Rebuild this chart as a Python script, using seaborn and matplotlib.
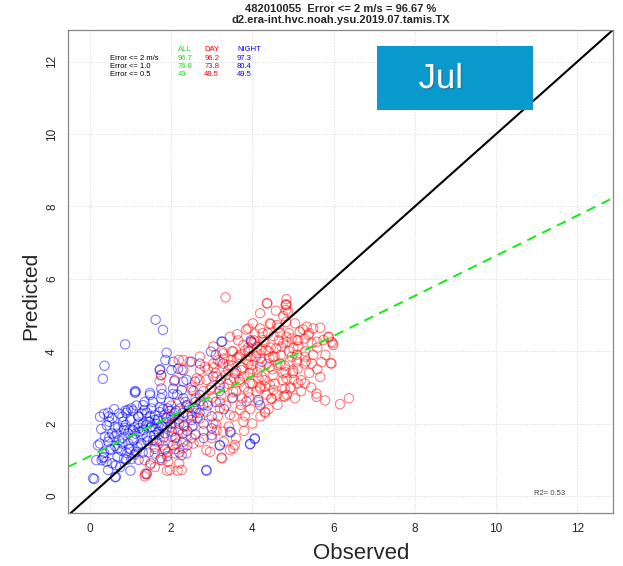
import numpy as np
import pandas as pd
import seaborn as sns
from matplotlib import pyplot as plt
from matplotlib.patches import Rectangle
import matplotlib.patheffects as pe

# night (blue) points, observed / predicted
night_obs = [
    1.62, 1.80, 0.87, 0.36, 0.32, 1.13, 1.89, 1.86, 1.73, 3.26, 3.96, 0.11, 0.64, 2.87, 4.06, 3.95, 3.47, 3.20,
    1.11, 1.48, 1.78, 2.05, 0.25, 0.35, 0.45, 0.47, 0.48, 0.80, 0.88, 0.94, 1.06, 1.31, 1.35, 1.19, 1.48, 1.60,
    1.72, 1.85, 1.97, 2.09, 2.22, 0.55, 0.61, 0.37, 0.25, 0.45, 0.16, 0.29, 0.41, 0.45, 0.08, 0.34, 0.52, 0.68,
    0.68, 0.64, 0.62, 0.84, 0.96, 1.08, 0.80, 0.94, 1.06, 1.23, 1.31, 1.19, 1.44, 1.52, 1.64, 1.76, 1.89, 2.01,
    1.68, 1.85, 1.40, 1.56, 1.27, 0.92, 1.15, 0.72, 0.84, 0.88, 0.61,
    3.24, 3.97, 2.98, 3.10, 2.71, 2.50, 2.30, 2.38, 2.59, 3.28, 4.23, 3.57, 3.04, 3.20,
    2.26, 2.30, 2.38, 2.55, 2.71, 2.79, 3.00, 3.00, 3.45, 3.20, 4.06, 3.94, 2.87, 2.30, 2.26, 4.19, 4.15, 3.86,
    2.05, 2.17, 2.01, 1.72, 1.76, 2.09, 2.30, 1.11, 1.48, 1.76, 2.05,
    1.00, 1.10, 1.20, 1.30, 1.40, 1.50, 1.60, 1.70, 1.80, 1.90, 2.00, 2.10, 2.20, 2.30, 2.40, 2.50, 2.60, 2.70,
    2.80, 2.90, 3.00, 1.05, 1.25, 1.45, 1.65, 1.85, 2.05, 1.15, 1.35, 1.55, 1.75, 1.95, 2.15, 2.35, 2.55, 0.70,
    0.80, 0.90, 0.60, 0.50, 0.90, 1.00, 1.20, 1.30, 1.60, 1.50, 1.90, 2.20, 2.40, 2.60, 2.80, 3.10, 3.30, 3.50,
    3.20, 2.45, 2.65, 1.12, 1.38, 1.62, 1.88, 2.12, 2.32, 1.72, 1.48, 1.22, 0.98, 0.82, 0.66, 0.42, 0.28, 0.20,
    0.35, 0.55, 0.75, 1.00, 1.40, 0.95, 1.10, 1.75,
    0.55, 0.72, 1.02, 1.28, 1.52, 1.68, 1.92, 2.18, 2.42, 2.62, 0.62, 0.78, 1.02, 1.18, 1.42, 1.58, 1.82, 2.02,
    2.28, 2.52, 0.32, 0.48, 0.85, 1.32, 1.78,
]
night_pred = [
    4.87, 4.59, 4.19, 3.60, 3.24, 2.88, 3.96, 3.76, 3.50, 4.27, 4.30, 0.47, 0.53, 0.70, 1.58, 1.44, 1.76, 1.39,
    2.85, 2.79, 2.82, 2.82, 2.19, 2.27, 2.30, 2.19, 2.05, 2.19, 2.36, 2.38, 2.36, 2.51, 2.38, 2.19, 2.20, 2.23,
    2.32, 2.25, 2.35, 2.30, 2.42, 1.73, 1.64, 1.64, 1.45, 1.50, 0.99, 0.99, 0.95, 0.72, 0.49, 1.08, 1.27, 1.31,
    1.08, 0.85, 0.52, 1.04, 1.31, 1.54, 1.45, 1.73, 1.82, 1.78, 2.00, 2.00, 2.05, 1.91, 2.00, 1.96, 2.05, 2.00,
    1.78, 1.73, 1.64, 1.54, 1.45, 1.18, 1.22, 1.54, 1.82, 1.96, 1.91,
    4.26, 4.26, 3.99, 3.90, 3.66, 3.71, 3.48, 3.21, 3.16, 3.66, 3.71, 3.39, 3.30, 3.07,
    2.93, 2.70, 2.51, 2.42, 2.79, 2.51, 1.87, 1.68, 1.78, 1.41, 1.59, 1.43, 0.72, 1.50, 1.13, 2.51, 2.65, 2.61,
    3.71, 3.52, 3.48, 3.48, 3.34, 3.20, 3.16, 2.90, 2.85, 2.97, 2.97,
    2.10, 1.90, 2.20, 1.70, 2.30, 1.90, 2.10, 1.70, 2.40, 1.90, 2.20, 1.60, 2.00, 2.30, 1.80, 2.10, 2.60, 2.30,
    2.00, 2.50, 2.20, 1.60, 1.40, 1.20, 1.50, 1.30, 1.40, 2.50, 2.60, 2.60, 2.70, 2.60, 2.80, 2.60, 2.90, 1.90,
    1.60, 2.30, 2.40, 1.30, 1.00, 1.30, 1.00, 1.20, 1.30, 0.90, 1.10, 1.20, 1.40, 1.70, 1.60, 2.60, 2.40, 2.70,
    2.90, 2.45, 2.15, 1.72, 1.95, 1.85, 2.15, 2.35, 1.95, 2.45, 2.05, 1.88, 1.82, 2.05, 1.72, 1.95, 1.85, 1.40,
    1.20, 0.90, 0.80, 0.70, 0.60, 1.45, 1.15, 1.05,
    2.15, 2.28, 2.42, 2.28, 2.42, 2.12, 2.42, 2.12, 2.22, 2.42, 1.38, 1.25, 1.02, 1.35, 1.52, 1.68, 1.62, 1.78,
    1.72, 1.92, 1.05, 1.62, 1.88, 1.82, 1.92,
]

# day (red) points
day_obs = [
    3.34, 4.36, 4.84, 4.82, 6.38, 6.16, 5.79, 5.58, 5.93, 5.98, 5.88, 1.36, 1.73, 2.16, 3.25, 4.32, 4.47, 4.77,
    1.35, 1.48, 1.39, 1.35, 1.78, 1.93, 1.97, 1.60, 1.85, 2.09, 2.14, 2.01, 2.18, 1.60, 1.72, 1.93, 2.09,
    4.37, 4.83, 4.83, 4.58, 4.19, 4.76, 4.01, 4.43, 4.61, 4.83, 3.90, 4.19, 4.39, 4.68, 3.63, 4.06, 4.27, 3.98,
    3.78, 4.11, 3.91, 3.53, 3.67, 3.48, 3.85, 4.09, 4.34, 4.59, 4.76, 4.84, 4.51, 4.68, 4.43, 4.19, 3.98, 3.73,
    3.94, 4.23, 4.51, 4.76, 3.28, 3.04, 3.20, 3.41, 3.04, 2.83, 3.12, 3.45, 3.69, 3.94, 4.19, 4.43, 2.30, 2.46,
    2.26, 2.71, 2.71, 2.63, 2.87,
    2.50, 2.96, 3.24, 3.53, 3.90, 4.19, 4.52, 4.80, 4.47, 4.80, 4.31, 3.70, 3.78, 3.45, 3.20, 2.87, 2.71, 2.55,
    2.38, 2.55, 2.30, 2.96, 3.24, 3.53, 3.45, 3.57, 3.04, 3.28, 2.26, 2.87, 2.38,
    4.84, 4.88, 5.05, 5.17, 5.34, 5.38, 5.50, 5.67, 5.87, 5.99, 5.95, 5.75, 5.59, 5.46, 5.29, 5.13, 4.97, 4.84,
    5.01, 5.13, 4.97, 5.09, 5.29, 5.29, 5.46, 5.95, 5.01, 5.67, 4.84, 5.13, 5.29, 4.93, 5.58,
    2.19, 1.75, 1.72, 2.08,
    3.00, 3.10, 3.20, 3.30, 3.40, 3.50, 3.60, 3.70, 3.80, 3.90, 4.00, 4.10, 4.20, 4.30, 4.40, 4.50, 4.60, 4.70,
    4.80, 4.90, 5.00, 5.10, 5.20, 5.30, 5.40, 5.50, 5.60, 3.05, 3.25, 3.45, 3.65, 3.85, 4.05, 4.25, 4.45, 4.65,
    3.15, 3.35, 3.55, 3.75, 3.95, 4.15, 4.35, 4.55, 4.75, 4.95, 2.80, 2.60, 2.40, 2.50, 2.70, 2.90, 2.20, 2.00,
    2.30, 2.60, 2.90, 3.10, 2.80, 2.50, 2.70, 3.00, 3.30, 3.60, 3.80, 4.00, 4.20, 4.40, 2.10, 2.20, 1.90, 1.60,
    1.80, 2.00, 3.55, 3.75, 3.95, 4.15, 4.35, 4.55, 3.35, 3.15, 4.65, 4.45, 4.90, 5.10, 5.25, 5.40, 5.60, 5.80,
    5.70, 4.85, 5.05, 5.20, 5.45, 3.60, 3.80, 4.00, 3.70, 3.90, 4.10, 4.30, 3.50, 3.30,
    3.42, 3.62, 3.82, 4.02, 4.22, 4.42, 4.62, 4.82, 3.52, 3.72, 3.92, 4.12, 4.32, 4.52, 4.72, 4.92, 5.12, 5.32,
    3.22, 3.02, 2.72, 2.52, 2.32, 2.12, 1.92, 3.12, 3.42, 3.82, 4.62, 5.02,
]
day_pred = [
    5.49, 5.33, 5.44, 5.28, 2.70, 2.54, 2.64, 2.74, 3.67, 4.22, 4.39, 0.61, 1.00, 0.70, 1.04, 2.30, 2.68, 2.76,
    0.99, 0.85, 0.62, 0.54, 0.99, 0.95, 0.72, 1.18, 1.27, 1.18, 1.45, 1.64, 1.82, 1.36, 1.54, 2.19, 2.00,
    5.32, 5.30, 5.14, 5.12, 5.05, 4.97, 4.77, 4.77, 4.72, 4.81, 4.63, 4.63, 4.49, 4.51, 4.47, 4.49, 4.31, 4.26,
    4.17, 4.12, 3.99, 3.99, 3.85, 3.76, 3.76, 3.85, 4.03, 4.08, 4.22, 4.40, 3.85, 3.66, 3.57, 3.57, 3.62, 3.48,
    3.39, 3.30, 3.34, 3.39, 3.94, 4.13, 3.71, 3.48, 3.66, 3.57, 3.30, 3.21, 3.21, 3.11, 3.02, 3.07, 3.76, 3.71,
    3.48, 3.85, 3.48, 3.25, 3.21,
    2.93, 2.93, 2.79, 2.88, 2.88, 2.97, 2.93, 2.97, 2.70, 2.74, 2.33, 2.38, 2.05, 2.24, 2.42, 2.33, 2.14, 1.96,
    1.68, 1.45, 1.32, 1.22, 1.06, 1.32, 1.27, 1.41, 2.00, 1.78, 0.72, 1.27, 1.18,
    5.27, 5.09, 4.77, 4.54, 4.68, 4.45, 4.63, 4.65, 4.40, 4.17, 4.26, 4.31, 4.26, 4.22, 4.35, 4.31, 4.35, 4.26,
    4.08, 4.13, 3.85, 3.71, 3.85, 3.66, 3.66, 3.66, 3.45, 3.29, 3.25, 3.11, 3.11, 2.97, 2.83,
    3.76, 3.34, 3.17, 3.17,
    3.00, 3.40, 2.60, 3.80, 3.10, 3.60, 2.90, 3.90, 3.30, 4.10, 3.50, 2.90, 3.80, 3.20, 4.00, 3.50, 2.80, 3.90,
    3.60, 4.00, 3.40, 3.90, 3.20, 4.00, 3.40, 3.90, 3.50, 3.55, 4.00, 4.40, 4.30, 4.60, 4.30, 4.50, 4.10, 4.30,
    2.20, 2.50, 2.20, 2.70, 2.40, 2.60, 2.80, 3.10, 3.20, 3.00, 2.90, 2.70, 2.50, 3.00, 3.20, 3.50, 2.60, 2.50,
    2.20, 2.30, 2.60, 2.00, 1.80, 1.60, 1.50, 1.60, 1.50, 1.60, 1.80, 2.00, 2.20, 2.40, 1.30, 0.90, 0.70, 0.80,
    1.40, 1.90, 3.25, 3.55, 3.85, 3.25, 3.65, 3.85, 3.35, 3.75, 4.65, 4.75, 4.50, 4.30, 4.60, 4.50, 4.10, 3.90,
    3.70, 2.80, 2.70, 2.90, 3.00, 3.45, 3.00, 3.10, 3.15, 3.65, 3.95, 4.25, 4.00, 3.00,
    3.62, 3.82, 4.02, 4.22, 4.02, 3.82, 3.62, 3.42, 2.72, 2.52, 2.72, 3.42, 3.02, 4.42, 4.12, 3.72, 3.52, 3.72,
    3.22, 2.72, 2.62, 2.22, 1.92, 1.62, 1.22, 1.82, 1.92, 2.22, 2.52, 3.22,
]

# fitted line (all points)
fit_intercept = 1.10
fit_slope = 0.554

table_rows = ["Error <= 2 m/s", "Error <= 1.0", "Error <= 0.5"]
table_all = ["96.7", "76.8", "49"]
table_day = ["96.2", "73.8", "48.5"]
table_night = ["97.3", "80.4", "49.5"]
r2 = 0.53
month = "Jul"

night = pd.DataFrame({"obs": night_obs, "pred": night_pred})
day = pd.DataFrame({"obs": day_obs, "pred": day_pred})

sns.set_style("white")
plt.rcParams["font.family"] = ["Liberation Sans", "DejaVu Sans"]

fig = plt.figure(figsize=(6.23, 5.66), dpi=100)
ax = fig.add_axes([0.109, 0.0936, 0.875, 0.853])

sns.scatterplot(data=night, x="obs", y="pred", ax=ax, s=45, marker="o",
                facecolor="none", edgecolor="blue", linewidth=0.8, alpha=0.5)
sns.scatterplot(data=day, x="obs", y="pred", ax=ax, s=45, marker="o",
                facecolor="none", edgecolor="red", linewidth=0.8, alpha=0.5)

ax.axline((0, 0), slope=1, color="black", lw=1.5)
ax.axline((0, fit_intercept), slope=fit_slope, color="#11ee11", lw=1.4, dashes=(5, 3.5))

ax.set_xlim(-0.54, 12.88)
ax.set_ylim(-0.47, 12.87)
ticks = [0, 2, 4, 6, 8, 10, 12]
ax.set_xticks(ticks)
ax.set_yticks(ticks)
ax.grid(True, color="#dddddd", linestyle=(0, (1, 1.5)), lw=0.8)
for s in ax.spines.values():
    s.set_color("#888888")
    s.set_linewidth(0.9)
ax.tick_params(axis="both", direction="out", length=5, width=0.8, color="#888888",
               labelsize=8.5, pad=2)
plt.setp(ax.get_yticklabels(), rotation=90, va="center")

ax.set_xlabel("Observed", fontsize=16)
ax.set_ylabel("Predicted", fontsize=15)
ax.xaxis.set_label_coords(0.538, -0.062)
ax.yaxis.set_label_coords(-0.051, 0.45)

ax.set_title("482010055  Error <= 2 m/s = 96.67 %\nd2.era-int.hvc.noah.ysu.2019.07.tamis.TX",
             fontsize=8, fontweight="bold", pad=5, linespacing=1.15)

# summary table
fs = 5.5
ax.text(0.202, 0.956, "ALL", color="#22dd22", fontsize=fs, transform=ax.transAxes)
ax.text(0.250, 0.956, "DAY", color="red", fontsize=fs, transform=ax.transAxes)
ax.text(0.310, 0.956, "NIGHT", color="blue", fontsize=fs, transform=ax.transAxes)
for i, row in enumerate(table_rows):
    yy = 0.938 - i * 0.0165
    ax.text(0.077, yy, row, color="black", fontsize=fs, transform=ax.transAxes)
    ax.text(0.202, yy, table_all[i], color="#22dd22", fontsize=fs, transform=ax.transAxes)
    ax.text(0.250, yy, table_day[i], color="red", fontsize=fs, transform=ax.transAxes)
    ax.text(0.310, yy, table_night[i], color="blue", fontsize=fs, transform=ax.transAxes)

ax.text(0.884, 0.037, f"R2= {r2}", color="#444444", fontsize=5.5, ha="center",
        transform=ax.transAxes)

# month badge
ax.add_patch(Rectangle((0.567, 0.834), 0.286, 0.133, transform=ax.transAxes,
                       facecolor="#0a99cc", edgecolor="none", zorder=5))
ax.text(0.684, 0.900, month, color="white", fontsize=25, ha="center", va="center",
        transform=ax.transAxes, zorder=6,
        path_effects=[pe.withSimplePatchShadow(offset=(1, -1), alpha=0.4)])

fig.savefig("out.png", dpi=100)
